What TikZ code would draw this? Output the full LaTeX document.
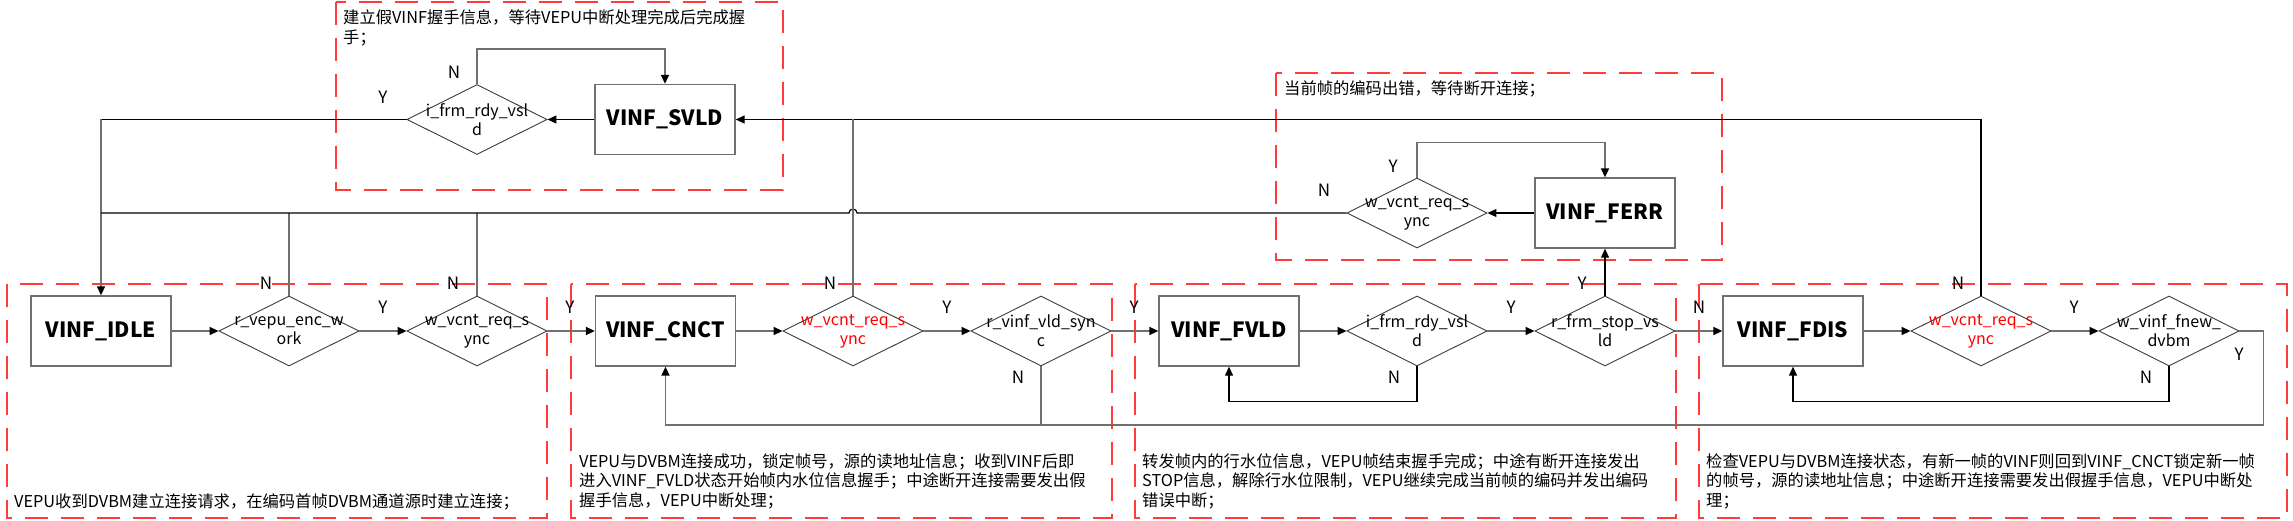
\documentclass[tikz,border=0pt]{standalone}
\usepackage{fontspec}
\setmainfont{Noto Sans CJK SC}
\usetikzlibrary{shapes.geometric,arrows.meta}
\definecolor{cg}{RGB}{112,112,112}
\definecolor{dgr}{RGB}{60,60,60}
\definecolor{dred}{RGB}{255,60,60}
\begin{document}
\begin{tikzpicture}[x=1pt,y=-1pt,
  stbox/.style={draw=cg, line width=1.3pt, minimum width=140pt, minimum height=70pt, inner sep=0pt, font=\fontsize{21}{25}\selectfont\bfseries},
  dia/.style={diamond, draw=dgr, line width=0.9pt, minimum width=140pt, minimum height=70pt, inner sep=0pt},
  dlab/.style={font=\fontsize{16}{19}\selectfont, align=center, inner sep=0pt},
  yn/.style={font=\fontsize{17}{20}\selectfont, inner sep=0pt},
  grp/.style={draw=dred, line width=2pt, dash pattern=on 23pt off 13pt},
  note/.style={font=\fontsize{16.3}{19.5}\selectfont, align=left, inner sep=0pt, anchor=west},
  tip/.style={-{Triangle[length=9pt,width=8pt,color=black]}},
  ga/.style={draw=cg, line width=1.6pt, tip},
  gl/.style={draw=cg, line width=1.6pt},
  ba/.style={draw=black, line width=1.2pt, tip},
  bl/.style={draw=black, line width=1.2pt},
]
\useasboundingbox (0,0) rectangle (2293,521);

% group frames
\draw[grp] (336,2) rectangle (783,190);
\draw[grp] (1276,73) rectangle (1722,260);
\draw[grp] (7,284) rectangle (547,518);
\draw[grp] (571,284) rectangle (1112,518);
\draw[grp] (1135,284) rectangle (1676,518);
\draw[grp] (1699,284) rectangle (2287,518);

% notes
\node[note] (tsv) at (343,28) {建立假VINF握手信息，等待VEPU中断处理完成后完成握\\手；};
\node[note] (tid) at (14,502) {VEPU收到DVBM建立连接请求，在编码首帧DVBM通道源时建立连接；};
\node[note] (tcn) at (579,481) {VEPU与DVBM连接成功，锁定帧号，源的读地址信息；收到VINF后即\\进入VINF\_FVLD状态开始帧内水位信息握手；中途断开连接需要发出假\\握手信息，VEPU中断处理；};
\node[note] (tfv) at (1142,481) {转发帧内的行水位信息，VEPU帧结束握手完成；中途有断开连接发出\\STOP信息，解除行水位限制，VEPU继续完成当前帧的编码并发出编码\\错误中断；};
\node[note] (tfd) at (1706,481) {检查VEPU与DVBM连接状态，有新一帧的VINF则回到VINF\_CNCT锁定新一帧\\的帧号，源的读地址信息；中途断开连接需要发出假握手信息，VEPU中断处\\理；};
\node[note] (tfe) at (1284,89) {当前帧的编码出错，等待断开连接；};

% states
\node[stbox] (idle) at (101,331) {VINF\_IDLE};
\node[stbox] (cnct) at (665.5,331) {VINF\_CNCT};
\node[stbox] (fvld) at (1229,331) {VINF\_FVLD};
\node[stbox] (fdis) at (1793,331) {VINF\_FDIS};
\node[stbox] (svld) at (665,119.5) {VINF\_SVLD};
\node[stbox] (ferr) at (1605,213) {VINF\_FERR};

% decisions
\node[dia, label={[dlab]center:{r\_vepu\_enc\_w\\ork}}] (d1) at (289,331) {};
\node[dia, label={[dlab]center:{w\_vcnt\_req\_s\\ync}}] (d2) at (477,331) {};
\node[dia, label={[dlab]center:{i\_frm\_rdy\_vsl\\d}}] (dsvld) at (477,119.5) {};
\node[dia, label={[dlab,text=red]center:{w\_vcnt\_req\_s\\ync}}] (dc1) at (853,331) {};
\node[dia, label={[dlab]center:{r\_vinf\_vld\_syn\\c}}] (dc2) at (1041,331) {};
\node[dia, label={[dlab]center:{i\_frm\_rdy\_vsl\\d}}] (dv1) at (1417,331) {};
\node[dia, label={[dlab]center:{r\_frm\_stop\_vs\\ld}}] (dv2) at (1605,331) {};
\node[dia, label={[dlab,text=red]center:{w\_vcnt\_req\_s\\ync}}] (dd1) at (1981,331) {};
\node[dia, label={[dlab]center:{w\_vinf\_fnew\_\\dvbm}}] (dd2) at (2169,331) {};
\node[dia, label={[dlab]center:{w\_vcnt\_req\_s\\ync}}] (dferr) at (1417,213) {};

% junction coordinates
\coordinate (cSV) at (101,119.5);
\coordinate (jA) at (101,213);
\coordinate (jump) at (853,213);
\coordinate (jB) at (853,119.5);
\coordinate (jC) at (1041,425);

% connectors
\draw[ga] (idle) -- (d1);
\draw[ga] (d1) -- (d2);
\draw[ga] (d2) -- (cnct);
\draw[gl] (d1.north) -- (d1.north |- jA);
\draw[gl] (d2.north) -- (d2.north |- jA);
\draw[bl] (dsvld.west) -- (cSV);
\draw[ga] (cSV) -- (idle.north);
\draw[bl] (dferr.west) -- ([xshift=4pt]jump) arc[start angle=0,end angle=180,radius=4pt] -- (jA);
\draw[ba] (svld.west) -- (dsvld.east);
\draw[ga] (dsvld.north) -- ++(0,-35) -| (svld.north);
\draw[ba] (dd1.north) |- (svld.east);
\draw[gl] (dc1.north) -- (jB);

\draw[ga] (cnct) -- (dc1);
\draw[ga] (dc1) -- (dc2);
\draw[ga] (dc2) -- (fvld);
\draw[ga] (dc2.south) -- (jC) -| (cnct.south);
\draw[gl] (dd2.east) -- ++(24,0) |- (jC);

\draw[ga] (fvld) -- (dv1);
\draw[ga] (dv1) -- (dv2);
\draw[ga] (dv2) -- (fdis);
\draw[ba] (dv1.south) -- ++(0,35) -| (fvld.south);
\draw[ba] (dv2.north) -- (ferr.south);
\draw[ba] (ferr.west) -- (dferr.east);
\draw[ga] (dferr.north) -- ++(0,-35) -| (ferr.north);

\draw[ga] (fdis) -- (dd1);
\draw[ga] (dd1) -- (dd2);
\draw[ba] (dd2.south) -- ++(0,35) -| (fdis.south);

% Y / N labels
\node[yn] (l1) at (454,72) {N};
\node[yn] (l2) at (383,97) {Y};
\node[yn] (l3) at (266,283) {N};
\node[yn] (l4) at (453,283) {N};
\node[yn] (l5) at (383,307) {Y};
\node[yn] (l6) at (570,307) {Y};
\node[yn] (l7) at (830,283) {N};
\node[yn] (l8) at (947,307) {Y};
\node[yn] (l9) at (1018,377) {N};
\node[yn] (l10) at (1134,307) {Y};
\node[yn] (l11) at (1511,307) {Y};
\node[yn] (l12) at (1582,283) {Y};
\node[yn] (l13) at (1394,377) {N};
\node[yn] (l14) at (1699,307) {N};
\node[yn] (l15) at (1958,283) {N};
\node[yn] (l16) at (2074,307) {Y};
\node[yn] (l17) at (2146,377) {N};
\node[yn] (l18) at (2239,354) {Y};
\node[yn] (l19) at (1393,166) {Y};
\node[yn] (l20) at (1324,190) {N};
\end{tikzpicture}
\end{document}
